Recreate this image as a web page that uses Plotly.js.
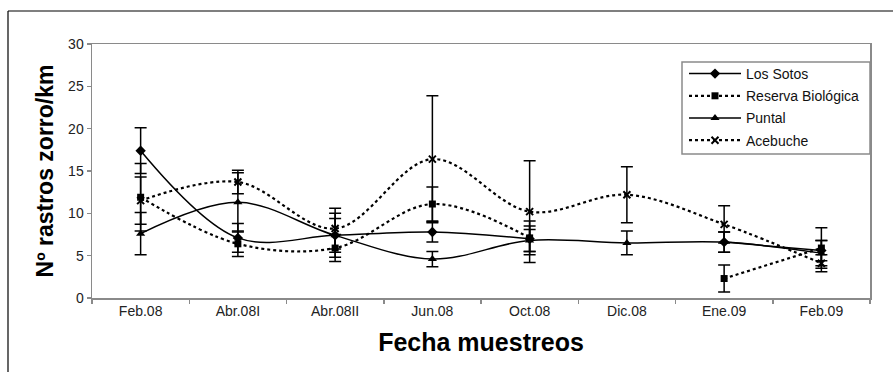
<!DOCTYPE html>
<html>
<head>
<meta charset="utf-8">
<script src="https://cdn.plot.ly/plotly-3.0.1.min.js"></script>
<style>
  html, body { margin: 0; padding: 0; background: #fff; }
  #chart { width: 893px; height: 372px; }
</style>
</head>
<body>
<div id="chart"></div>
<script>
// ---- data ----
const categories = ["Feb.08", "Abr.08I", "Abr.08II", "Jun.08", "Oct.08", "Dic.08", "Ene.09", "Feb.09"];

const seriesNames = ["Los Sotos", "Reserva Biológica", "Puntal", "Acebuche"];

const losSotos      = [17.4, 7.1, 7.4, 7.8, 7.0, null, 6.6, 5.6];
const losSotosErr   = [2.7, 1.7, 2.6, 1.2, 1.5, null, 1.2, 1.2];

const reserva       = [11.9, 6.4, 5.9, 11.1, 7.1, null, 2.3, 5.9];
const reservaErr    = [4.0, 1.5, 1.6, 2.0, 2.0, null, 1.6, 2.4];

const puntal        = [7.6, 11.3, 7.4, 4.6, 6.8, 6.5, 6.6, 5.3];
const puntalErr     = [2.5, 3.5, 2.0, 0.9, 1.3, 1.4, 1.2, 1.5];

const acebuche      = [11.5, 13.7, 8.2, 16.4, 10.2, 12.2, 8.7, 4.1];
const acebucheErr   = [2.8, 1.4, 2.4, 7.5, 6.0, 3.3, 2.2, 1.0];

const yTickVals = [0, 5, 10, 15, 20, 25, 30];

// ---- chart ----
const FONT = "Liberation Sans, Arial, sans-serif";

function mk(name, y, err, symbol, dash, msize, lw, group) {
  return {
    type: "scatter",
    mode: "lines+markers",
    name: name,
    legendgroup: group,
    x: categories,
    y: y,
    connectgaps: false,
    line: { color: "#000", width: lw, dash: dash, shape: "spline", smoothing: 1 },
    marker: { color: "#000", symbol: symbol, size: msize, line: { color: "#000", width: symbol === "x-thin" ? 2 : 0 } },
    error_y: { type: "data", array: err, visible: true, color: "#000", thickness: 1.5, width: 6 },
    cliponaxis: false
  };
}

const traces = [
  mk(seriesNames[0], losSotos, losSotosErr, "diamond", "solid", 8, 1.5, "a"),
  mk(seriesNames[1], reserva, reservaErr, "square", "dot", 7, 2.2, "b"),
  mk(seriesNames[2], puntal, puntalErr, "triangle-up", "solid", 8, 1.5, "c"),
  mk(seriesNames[3], acebuche, acebucheErr, "x-thin", "dot", 7, 2.2, "d")
];

const axisGray = "#8a8a8a";

const layout = {
  width: 893,
  height: 372,
  margin: { l: 92, r: 23, t: 44, b: 74, pad: 0 },
  paper_bgcolor: "#fff",
  plot_bgcolor: "#fff",
  font: { family: FONT, color: "#222", size: 14 },
  showlegend: true,
  legend: {
    x: (684 - 92) / 778, xanchor: "left",
    y: (298 - 58) / 254, yanchor: "top",
    bgcolor: "rgba(0,0,0,0)",
    borderwidth: 0,
    font: { family: FONT, size: 14, color: "#111" },
    tracegroupgap: 1,
    itemwidth: 52
  },
  xaxis: {
    type: "category",
    range: [-0.5, 7.5],
    showline: true, linecolor: axisGray, linewidth: 1.5, mirror: true,
    ticks: "outside", ticklen: 4, tickcolor: axisGray, tickwidth: 1.5,
    tickson: "boundaries",
    showgrid: false, zeroline: false,
    tickfont: { family: FONT, size: 14, color: "#222" },
    title: { text: "Fecha muestreos", font: { family: FONT, size: 25, color: "#000", weight: "bold" }, standoff: 15 }
  },
  yaxis: {
    range: [0, 30],
    tickvals: yTickVals,
    showline: true, linecolor: axisGray, linewidth: 1.5, mirror: true,
    ticks: "outside", ticklen: 4, tickcolor: axisGray, tickwidth: 1.5,
    showgrid: false, zeroline: false,
    tickfont: { family: FONT, size: 14, color: "#222" },
    title: { text: "Nº rastros zorro/km", font: { family: FONT, size: 23, color: "#000", weight: "bold" }, standoff: 8 }
  },
  shapes: [
    // legend box
    { type: "rect", xref: "paper", yref: "paper",
      x0: (682 - 92) / 778, x1: 1.0, y0: (298 - 154) / 254, y1: (298 - 62) / 254,
      line: { color: axisGray, width: 1.5 }, fillcolor: "rgba(0,0,0,0)", layer: "above" },
    // outer frame (top and left edges)
    { type: "line", xref: "paper", yref: "paper",
      x0: (8 - 92) / 778, x1: (893 - 92) / 778, y0: (298 - 11) / 254, y1: (298 - 11) / 254,
      line: { color: "#000", width: 1.2 } },
    { type: "line", xref: "paper", yref: "paper",
      x0: (8 - 92) / 778, x1: (8 - 92) / 778, y0: (298 - 11) / 254, y1: (298 - 380) / 254,
      line: { color: "#000", width: 1.2 } }
  ]
};

Plotly.newPlot("chart", traces, layout, { displayModeBar: false, staticPlot: true });
</script>
</body>
</html>
